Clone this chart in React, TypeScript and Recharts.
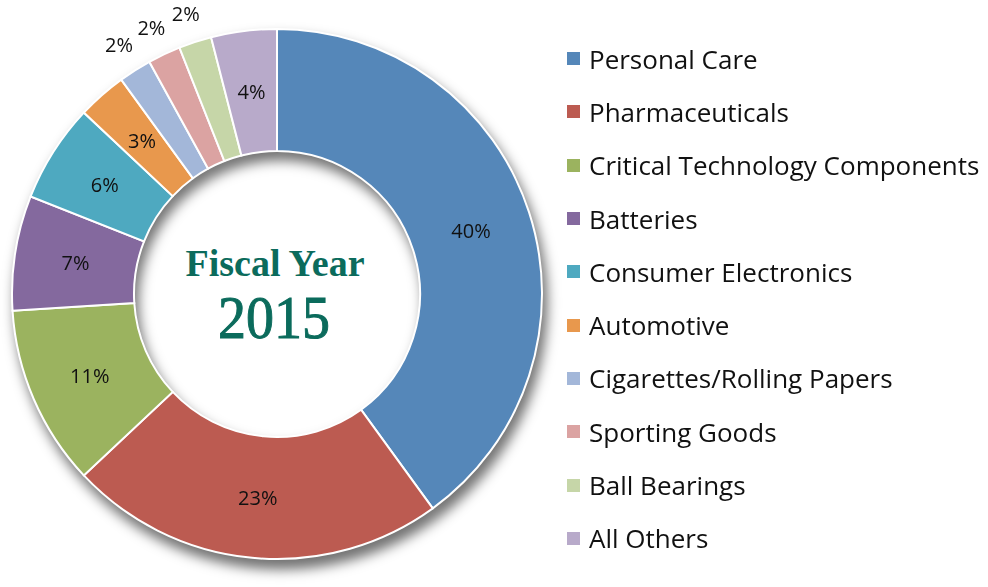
import React from "react";
import { PieChart, Pie, Cell, Legend } from "recharts";

const categories = [
  "Personal Care",
  "Pharmaceuticals",
  "Critical Technology Components",
  "Batteries",
  "Consumer Electronics",
  "Automotive",
  "Cigarettes/Rolling Papers",
  "Sporting Goods",
  "Ball Bearings",
  "All Others",
];
const shares = [40, 23, 11, 7, 6, 3, 2, 2, 2, 4];
const colors = [
  "#5587B9",
  "#BC5B51",
  "#9BB35F",
  "#84699E",
  "#4EA9C0",
  "#E8984D",
  "#A3B7D9",
  "#DBA3A2",
  "#C6D6A8",
  "#B8AACA",
];
const centerTitle = "Fiscal Year";
const centerYear = "2015";

const data = categories.map((name, i) => ({ name, value: shares[i] }));

const FONT = "'Open Sans', 'Liberation Sans', sans-serif";
const RAD = Math.PI / 180;
const CX = 277;
const CY = 294;

const renderLabel = (props: any) => {
  const { cx, cy, midAngle, innerRadius, outerRadius, value } = props;
  const outside = value <= 2;
  const r = outside ? outerRadius + 30 : (innerRadius + outerRadius) / 2;
  const x = cx + r * Math.cos(-midAngle * RAD);
  const y = cy + r * Math.sin(-midAngle * RAD);
  return (
    <text
      x={x}
      y={y}
      textAnchor="middle"
      dominantBaseline="central"
      fontFamily={FONT}
      fontSize={20}
      fill="#111"
    >
      {value}%
    </text>
  );
};

const renderLegend = () => (
  <div style={{ fontFamily: FONT }}>
    {categories.map((name, i) => (
      <div
        key={name}
        style={{
          height: 53.3,
          display: "flex",
          alignItems: "center",
          whiteSpace: "nowrap",
        }}
      >
        <span
          style={{
            display: "inline-block",
            width: 13,
            height: 13,
            background: colors[i],
            marginRight: 9,
          }}
        />
        <span style={{ fontSize: 26, color: "#111" }}>{name}</span>
      </div>
    ))}
  </div>
);

export default function App() {
  return (
    <div style={{ position: "absolute", left: 0, top: 0, background: "#fff" }}>
      <style>{`.pie-shadow { filter: blur(4px); }`}</style>
      <PieChart width={988} height={587} margin={{ top: 0, right: 0, bottom: 0, left: 0 }}>
        <Pie
          className="pie-shadow"
          data={data}
          dataKey="value"
          nameKey="name"
          cx={CX + 4}
          cy={CY + 9}
          innerRadius={143}
          outerRadius={266}
          startAngle={90}
          endAngle={-270}
          legendType="none"
          isAnimationActive={false}
        >
          {data.map((d, i) => (
            <Cell key={i} fill="#000" fillOpacity={0.55} stroke="#000" strokeOpacity={0.55} />
          ))}
        </Pie>
        <Pie
          data={data}
          dataKey="value"
          nameKey="name"
          cx={CX}
          cy={CY}
          innerRadius={143}
          outerRadius={265}
          startAngle={90}
          endAngle={-270}
          stroke="#fff"
          strokeWidth={2}
          label={renderLabel}
          labelLine={false}
          isAnimationActive={false}
        >
          {data.map((d, i) => (
            <Cell key={i} fill={colors[i]} />
          ))}
        </Pie>
        <text
          x={CX - 2}
          y={CY - 18}
          textAnchor="middle"
          fontFamily="'Liberation Serif', serif"
          fontWeight="bold"
          fontSize={38}
          fill="#0B6B5C"
        >
          {centerTitle}
        </text>
        <text
          x={CX - 3}
          y={CY + 44}
          textAnchor="middle"
          fontFamily="'Liberation Serif', serif"
          fontSize={62}
          textLength={112}
          lengthAdjust="spacingAndGlyphs"
          fill="#0B6B5C"
          stroke="#0B6B5C"
          strokeWidth={1}
        >
          {centerYear}
        </text>
        <Legend
          layout="vertical"
          content={renderLegend}
          wrapperStyle={{ position: "absolute", left: 567, top: 32, width: 420 }}
        />
      </PieChart>
    </div>
  );
}
